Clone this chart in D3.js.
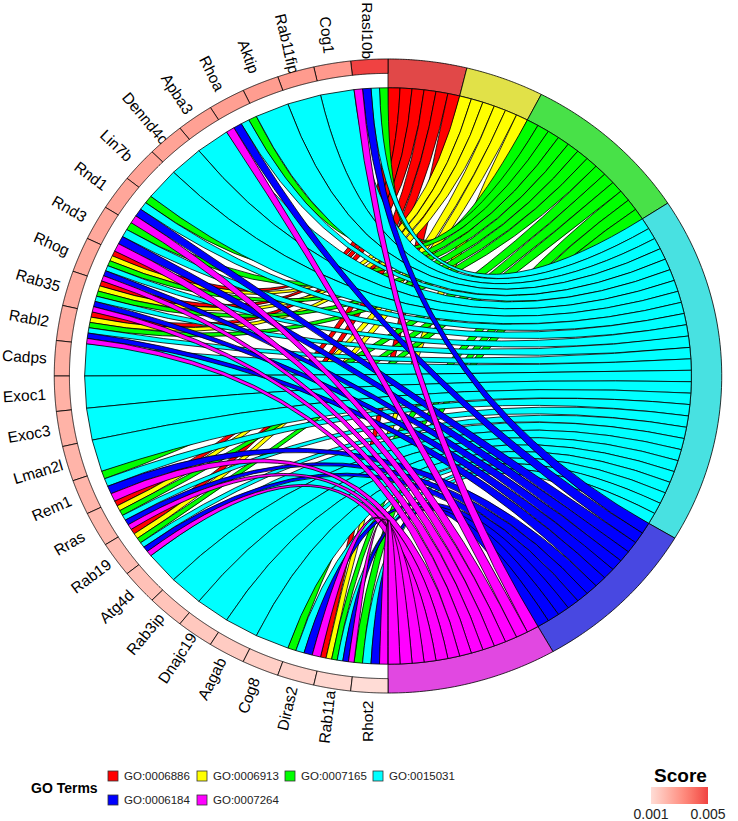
<!DOCTYPE html>
<html><head><meta charset="utf-8">
<script src="https://cdn.jsdelivr.net/npm/d3@7"></script>
<style>body{margin:0;background:#fff;} text{font-family:"Liberation Sans",Arial,Helvetica,sans-serif;}</style>
</head><body>
<svg id="chart" width="738" height="821"></svg>
<script>
// ---------------- data ----------------
const genes = ["Rasl10b","Cog1","Rab11fip","Aktip","Rhoa","Apba3","Dennd4c","Lin7b","Rnd1","Rnd3",
  "Rhog","Rab35","Rabl2","Cadps","Exoc1","Exoc3","Lman2l","Rem1","Rras","Rab19","Atg4d","Rab3ip",
  "Dnajc19","Aagab","Cog8","Diras2","Rab11a","Rhot2"];
const scores = [0.0050,0.0029,0.00285,0.0028,0.00275,0.0027,0.00265,0.0026,0.00255,0.0025,
  0.00245,0.0024,0.00235,0.0023,0.00225,0.0022,0.00215,0.0021,0.0020,0.0019,0.0018,0.0017,
  0.0016,0.0015,0.0014,0.0013,0.00115,0.0010];
const terms = ["GO:0006886","GO:0006913","GO:0007165","GO:0015031","GO:0006184","GO:0007264"];
const termColors = ["#FF0000","#FFFF00","#00FF00","#00FFFF","#0000FF","#FF00FF"];
const genes_GO0006886 = ["Rhog","Rab35","Rabl2","Rras","Rab19","Rab11a"];
const genes_GO0006913 = ["Rhog","Rab35","Rabl2","Rras","Rab19","Rab11a"];
const genes_GO0007165 = ["Rasl10b","Rhoa","Rnd1","Rnd3","Rhog","Rab35","Rabl2","Rem1","Rras","Rab19","Diras2","Rab11a","Rhot2"];
const genes_GO0015031 = genes.slice();
const genes_GO0006184 = ["Rasl10b","Rhoa","Rnd1","Rnd3","Rhog","Rab35","Rabl2","Rem1","Rras","Rab19","Diras2","Rab11a","Rhot2"];
const genes_GO0007264 = ["Rasl10b","Rhoa","Rnd1","Rnd3","Rhog","Rab35","Rabl2","Rem1","Rras","Rab19","Diras2","Rab11a","Rhot2"];
const scoreTicks = ["0.001","0.005"];
const membership = [genes_GO0006886,genes_GO0006913,genes_GO0007165,genes_GO0015031,genes_GO0006184,genes_GO0007264];

// ---------------- layout ----------------
const svg = d3.select("#chart");
const cx = 388, cy = 376, ux = 303.4, uy = 288.2;
const xS = d3.scaleLinear().domain([-1,1]).range([cx-ux, cx+ux]);
const yS = d3.scaleLinear().domain([-1,1]).range([cy+uy, cy-uy]);
const pt = (a, r) => [xS(r*Math.sin(a)), yS(r*Math.cos(a))];
const N = genes.length;
const nrib = membership.map(m => m.length);
const total = d3.sum(nrib);
const cum = [0]; nrib.forEach((n,i)=>cum.push(cum[i]+n));
const tA = d3.scaleLinear().domain([0,total]).range([0, Math.PI]);
const gA = d3.scaleLinear().domain([0,N]).range([0, -Math.PI]);
const gray = d3.rgb(179,179,179);
const blend = c => { const k=d3.rgb(c); return d3.rgb(0.6*k.r+0.4*gray.r, 0.6*k.g+0.4*gray.g, 0.6*k.b+0.4*gray.b).formatHex(); };
const geneColor = d3.scaleLinear().domain([0,0.005]).range(["#FFFFFF","#F04242"]).interpolate(d3.interpolateLab);
const line = d3.line();
function ringPoly(a0,a1,r1,r2){
  const pts=[]; const L=50;
  for(let i=0;i<L;i++){ const a=a0+(a1-a0)*i/(L-1); pts.push(pt(a,r1)); }
  for(let i=L-1;i>=0;i--){ const a=a0+(a1-a0)*i/(L-1); pts.push(pt(a,r2)); }
  return line(pts)+"Z";
}
const SW = 0.8;

// process ring
svg.append("g").selectAll("path").data(terms).join("path")
  .attr("d",(d,i)=>ringPoly(tA(cum[i]),tA(cum[i+1]),1.0,1.1))
  .attr("fill",(d,i)=>blend(termColors[i])).attr("stroke","#000").attr("stroke-width",SW);

// gene labels
svg.append("g").selectAll("text").data(genes).join("text")
  .attr("transform",(d,s)=>{ const p=pt(gA(s+0.5),1.2); return `translate(${p[0]},${p[1]}) rotate(${90-180*s/(N-1)})`; })
  .attr("text-anchor","middle").attr("dominant-baseline","central")
  .attr("font-size",15.5).attr("fill","#000").text(d=>d);

// ribbons
const geneTerms = genes.map(g => terms.map((t,j)=>j).filter(j=>membership[j].includes(g)));
const ribbons = [];
membership.forEach((list,j)=>{
  const sorted = list.map(g=>genes.indexOf(g)).sort((a,b)=>a-b);
  sorted.forEach((gi,k)=>{
    const v = geneTerms[gi].indexOf(j), n = geneTerms[gi].length;
    ribbons.push({term:j, p0:tA(cum[j]+k), p1:tA(cum[j]+k+1), g0:gA(gi+v/n), g1:gA(gi+(v+1)/n)});
  });
});
const C = [xS(0), yS(0)];
svg.append("g").selectAll("path").data(ribbons).join("path")
  .attr("d",r=>{
    const p=d3.path(); const s0=pt(r.p0,1), e0=pt(r.g0,1), e1=pt(r.g1,1), s1=pt(r.p1,1);
    p.moveTo(...s0); p.quadraticCurveTo(C[0],C[1],...e0); p.lineTo(...e1); p.quadraticCurveTo(C[0],C[1],...s1); p.closePath();
    return p.toString();
  })
  .attr("fill",r=>termColors[r.term]).attr("stroke","#000").attr("stroke-width",SW);

// gene ring
svg.append("g").selectAll("path").data(genes).join("path")
  .attr("d",(d,s)=>ringPoly(gA(s),gA(s+1),1.05,1.1))
  .attr("fill",(d,s)=>geneColor(scores[s])).attr("stroke","#000").attr("stroke-width",SW);

// legend GO terms
const lg = svg.append("g");
lg.append("text").attr("x",31).attr("y",788).attr("dominant-baseline","central")
  .attr("font-weight","bold").attr("font-size",14).text("GO Terms");
const colX = [108,197,285,373], rowY = [776,800];
terms.forEach((t,i)=>{
  const x=colX[i%4], y=rowY[Math.floor(i/4)];
  lg.append("rect").attr("x",x).attr("y",y-5).attr("width",10).attr("height",10)
    .attr("fill",termColors[i]).attr("stroke","#333").attr("stroke-width",0.8);
  lg.append("text").attr("x",x+16).attr("y",y).attr("dominant-baseline","central")
    .attr("font-size",11.5).attr("fill","#222").text(t);
});
// legend Score
const defs = svg.append("defs");
const grad = defs.append("linearGradient").attr("id","sg");
d3.range(0,1.0001,0.1).forEach(t=>{
  const ext = d3.extent(scores);
  grad.append("stop").attr("offset",t).attr("stop-color",geneColor(ext[0]+t*(ext[1]-ext[0])));
});
const barX=651, barW=57;
lg.append("text").attr("x",barX+barW/2+1).attr("y",775).attr("text-anchor","middle").attr("dominant-baseline","central")
  .attr("font-weight","bold").attr("font-size",19).text("Score");
lg.append("rect").attr("x",barX).attr("y",787).attr("width",barW).attr("height",17).attr("fill","url(#sg)");
const bx = d3.scaleLinear().domain(d3.extent(scores)).range([barX, barX+barW]);
scoreTicks.forEach((t,i)=>{
  lg.append("text").attr("x",bx(+t)).attr("y",814).attr("text-anchor","middle").attr("dominant-baseline","central")
    .attr("font-size",14).attr("fill","#222").text(t);
});
</script>
</body></html>
